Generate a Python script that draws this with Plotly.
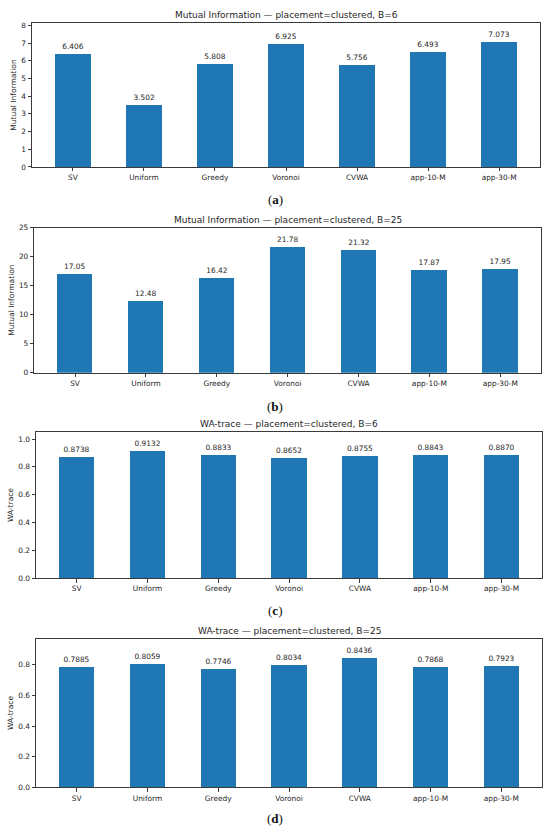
import plotly.graph_objects as go

categories = ["SV", "Uniform", "Greedy", "Voronoi", "CVWA", "app-10-M", "app-30-M"]
mi_b6 = [6.406, 3.502, 5.808, 6.925, 5.756, 6.493, 7.073]
mi_b25 = [17.05, 12.48, 16.42, 21.78, 21.32, 17.87, 17.95]
wa_b6 = [0.8738, 0.9132, 0.8833, 0.8652, 0.8755, 0.8843, 0.8870]
wa_b25 = [0.7885, 0.8059, 0.7746, 0.8034, 0.8436, 0.7868, 0.7923]

titles = [
    "Mutual Information — placement=clustered, B=6",
    "Mutual Information — placement=clustered, B=25",
    "WA-trace — placement=clustered, B=6",
    "WA-trace — placement=clustered, B=25",
]
ylabels = ["Mutual Information", "Mutual Information", "WA-trace", "WA-trace"]
captions = ["a", "b", "c", "d"]
series = [mi_b6, mi_b25, wa_b6, wa_b25]
ytick_vals = [
    [0, 1, 2, 3, 4, 5, 6, 7, 8],
    [0, 5, 10, 15, 20, 25],
    [0.0, 0.2, 0.4, 0.6, 0.8, 1.0],
    [0.0, 0.2, 0.4, 0.6, 0.8],
]
ytick_fmt = [None, None, ".1f", ".1f"]

W, H = 550, 837
# plot-area boxes in pixels: left, right, top, bottom
boxes = [
    (32, 540, 19.3, 164.7),
    (34.3, 541, 226, 372.7),
    (36, 542.3, 432.7, 580.3),
    (36, 542, 641.7, 791.7),
]
caption_y = [198, 407, 613, 823]

FONT = "DejaVu Sans"
TXT = "#262626"
fig = go.Figure()
annotations = []
for i, (vals, box) in enumerate(zip(series, boxes)):
    n = i + 1
    xa = "x" if n == 1 else f"x{n}"
    ya = "y" if n == 1 else f"y{n}"
    fig.add_trace(go.Bar(
        x=list(range(len(categories))), y=vals, xaxis=xa, yaxis=ya,
        width=0.5, marker=dict(color="#1f77b4", line=dict(width=0)),
        texttemplate="%{y:.4g}", textposition="outside", cliponaxis=False,
        textfont=dict(family=FONT, size=7.4, color=TXT),
        showlegend=False, hoverinfo="x+y",
    ))
    l, r, t, b = box
    xdom = [l / W, r / W]
    ydom = [1 - b / H, 1 - t / H]
    axis_common = dict(
        showline=True, linecolor="#3a3a3a", linewidth=1, mirror=True,
        ticks="outside", ticklen=3.5, tickcolor="#3a3a3a", showgrid=False,
        zeroline=False, tickfont=dict(family=FONT, size=7.4, color=TXT),
    )
    xkey = "xaxis" if n == 1 else f"xaxis{n}"
    ykey = "yaxis" if n == 1 else f"yaxis{n}"
    fig.update_layout(**{
        xkey: dict(domain=xdom, anchor=ya, range=[-0.575, len(categories) - 0.425],
                   tickmode="array", tickvals=list(range(len(categories))),
                   ticktext=categories, **axis_common),
        ykey: dict(domain=ydom, anchor=xa, range=[0, max(vals) * 1.15],
                   tickmode="array", tickvals=ytick_vals[i],
                   tickformat=ytick_fmt[i],
                   title=dict(text=ylabels[i], standoff=3,
                              font=dict(family=FONT, size=7.5, color=TXT)),
                   **axis_common),
    })
    annotations.append(dict(
        text=titles[i], xref="paper", yref="paper",
        x=(xdom[0] + xdom[1]) / 2, y=ydom[1], xanchor="center", yanchor="bottom",
        yshift=1, showarrow=False, font=dict(family=FONT, size=9, color=TXT),
    ))
    annotations.append(dict(
        text=f"(<b>{captions[i]}</b>)", xref="paper", yref="paper",
        x=275 / W, y=1 - caption_y[i] / H, xanchor="center", yanchor="middle",
        showarrow=False, font=dict(family="Liberation Serif", size=13, color="#111"),
    ))

fig.update_layout(
    width=W, height=H, margin=dict(l=0, r=0, t=0, b=0),
    paper_bgcolor="white", plot_bgcolor="white",
    annotations=annotations, bargap=0,
)
fig.write_html("out.html", config={"displayModeBar": False},
               post_script="document.body.style.margin='0';document.body.style.overflow='hidden';")
